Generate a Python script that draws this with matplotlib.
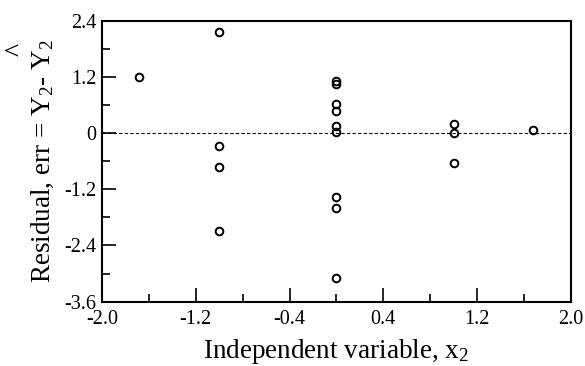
import matplotlib
matplotlib.use("Agg")
from matplotlib import pyplot as plt
from matplotlib.ticker import MultipleLocator

# residuals vs x2 (central composite design levels)
x2 = [-1.682, -1.0, -1.0, -1.0, -1.0,
      0.0, 0.0, 0.0, 0.0, 0.0, 0.0, 0.0, 0.0, 0.0,
      1.0, 1.0, 1.0, 1.682]
err = [1.2, 2.15, -0.28, -0.72, -2.1,
       1.12, 1.04, 0.63, 0.47, 0.15, 0.03, -1.37, -1.6, -3.1,
       0.2, 0.0, -0.64, 0.07]

plt.rcParams['font.family'] = ['Liberation Serif', 'DejaVu Serif']
plt.rcParams['mathtext.fontset'] = 'custom'
plt.rcParams['mathtext.rm'] = 'Liberation Serif'
plt.rcParams['mathtext.it'] = 'Liberation Serif'

fig = plt.figure(figsize=(5.85, 3.66), dpi=100)
ax = fig.add_axes([0.1744, 0.1757, 0.8012, 0.7677])

ax.plot(x2, err, 'o', mfc='none', mec='black', ms=5.5, mew=1.4)
ax.axhline(y=0, color='black', linewidth=0.8, linestyle=(0, (3, 2)))

ax.set_xlim(-2.0, 2.0)
ax.set_ylim(-3.6, 2.4)
ax.xaxis.set_minor_locator(MultipleLocator(0.4))
ax.yaxis.set_minor_locator(MultipleLocator(0.6))
ax.set_xticks([-2.0, -1.2, -0.4, 0.4, 1.2, 2.0])
ax.set_xticklabels(['-2.0', '-1.2', '-0.4', '0.4', '1.2', '2.0'])
ax.set_yticks([-3.6, -2.4, -1.2, 0, 1.2, 2.4])
ax.set_yticklabels(['-3.6', '-2.4', '-1.2', '0', '1.2', '2.4'])

ax.tick_params(which='both', direction='in', top=False, right=False,
               width=1.2, labelsize=14.5)
ax.tick_params(which='major', length=10)
ax.tick_params(which='minor', length=6)
ax.tick_params(axis='x', pad=6)
ax.tick_params(axis='y', pad=4)
for s in ax.spines.values():
    s.set_linewidth(1.5)

ax.set_xlabel("Independent variable, x$_2$", fontsize=19.5, labelpad=6)
ax.set_ylabel("Residual, err = Y$_2$- Y$_2$", fontsize=19.5, labelpad=6)
# the hat over the second Y
fig.text(17 / 585, 1 - 49 / 366, "^", rotation=90, fontsize=20,
         ha='center', va='center')

fig.savefig("out.png", dpi=100)
